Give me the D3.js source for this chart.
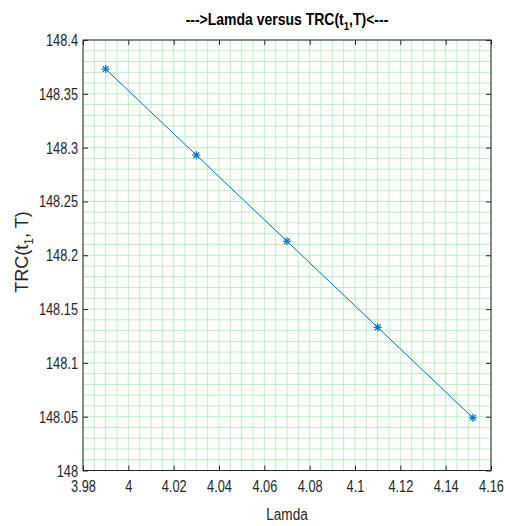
<!DOCTYPE html>
<html>
<head>
<meta charset="utf-8">
<script src="https://cdn.jsdelivr.net/npm/d3@7"></script>
<style>
  html, body { margin: 0; padding: 0; background: #fff; }
  svg { display: block; font-family: "Liberation Sans", Arial, Helvetica, sans-serif; }
</style>
</head>
<body>
<svg id="chart" width="507" height="526"></svg>
<script>
// Lamda values and the resulting TRC(t1,T)
const lamda = [3.99, 4.03, 4.07, 4.11, 4.152];
const trc = [148.373, 148.293, 148.213, 148.133, 148.049];

// Axis tick values
const xTicks = [3.98, 4.00, 4.02, 4.04, 4.06, 4.08, 4.10, 4.12, 4.14, 4.16];
const xTickLabels = ["3.98", "4", "4.02", "4.04", "4.06", "4.08", "4.1", "4.12", "4.14", "4.16"];
const yTicks = [148.0, 148.05, 148.1, 148.15, 148.2, 148.25, 148.3, 148.35, 148.4];
const yTickLabels = ["148", "148.05", "148.1", "148.15", "148.2", "148.25", "148.3", "148.35", "148.4"];
const xMinorStep = 0.005;
const yMinorStep = 0.01;

const svg = d3.select("#chart");
const plotL = 83, plotR = 491, plotT = 40, plotB = 470.5;

const x = d3.scaleLinear().domain([3.98, 4.16]).range([plotL, plotR]);
const y = d3.scaleLinear().domain([148.0, 148.4]).range([plotB, plotT]);

const ink = "#262626";
const gridColor = "#bdefc3";
const lineColor = "#0072BD";
const sx = 0.8; // horizontal glyph squeeze used for the labels

// grid (minor + major share the same light green)
const xGrid = d3.range(0, 37).map(i => 3.98 + i * xMinorStep);
const yGrid = d3.range(0, 41).map(i => 148.0 + i * yMinorStep);
const grid = svg.append("g");
grid.selectAll("line.gx").data(xGrid).join("line")
  .attr("class", "gx")
  .attr("x1", d => x(d)).attr("x2", d => x(d))
  .attr("y1", plotT).attr("y2", plotB)
  .attr("stroke", gridColor).attr("stroke-width", 1);
grid.selectAll("line.gy").data(yGrid).join("line")
  .attr("class", "gy")
  .attr("y1", d => y(d)).attr("y2", d => y(d))
  .attr("x1", plotL).attr("x2", plotR)
  .attr("stroke", gridColor).attr("stroke-width", 1);

// axes with inward ticks on all four sides
function styleAxis(g) {
  g.select(".domain").remove();
  g.selectAll(".tick line").attr("stroke", ink).attr("stroke-width", 1);
}
const xb = svg.append("g").attr("transform", `translate(0,${plotB})`)
  .call(d3.axisBottom(x).tickValues(xTicks).tickSizeInner(-5).tickSizeOuter(0).tickFormat((d, i) => xTickLabels[i]));
styleAxis(xb);
xb.selectAll(".tick text")
  .attr("y", null).attr("dy", null)
  .attr("transform", `translate(0,21) scale(${sx},1)`)
  .attr("fill", ink).attr("font-size", 16);

const xt = svg.append("g").attr("transform", `translate(0,${plotT})`)
  .call(d3.axisTop(x).tickValues(xTicks).tickSizeInner(-5).tickSizeOuter(0).tickFormat(""));
styleAxis(xt);

const yl = svg.append("g").attr("transform", `translate(${plotL},0)`)
  .call(d3.axisLeft(y).tickValues(yTicks).tickSizeInner(-5).tickSizeOuter(0).tickFormat((d, i) => yTickLabels[i]));
styleAxis(yl);
yl.selectAll(".tick text")
  .attr("x", null).attr("dy", null)
  .attr("transform", `translate(-5,5.5) scale(${sx},1)`)
  .attr("fill", ink).attr("font-size", 16);

const yr = svg.append("g").attr("transform", `translate(${plotR},0)`)
  .call(d3.axisRight(y).tickValues(yTicks).tickSizeInner(-5).tickSizeOuter(0).tickFormat(""));
styleAxis(yr);

// keep axis text in the page font
svg.selectAll(".tick text").attr("font-family", null);
xb.attr("font-family", null).attr("font-size", null);
yl.attr("font-family", null).attr("font-size", null);

// box
svg.append("rect")
  .attr("x", plotL).attr("y", plotT)
  .attr("width", plotR - plotL).attr("height", plotB - plotT)
  .attr("fill", "none").attr("stroke", ink).attr("stroke-width", 1);

// data line
const pts = lamda.map((d, i) => [d, trc[i]]);
svg.append("path")
  .datum(pts)
  .attr("d", d3.line().x(d => x(d[0])).y(d => y(d[1])))
  .attr("fill", "none").attr("stroke", lineColor).attr("stroke-width", 1);

// asterisk markers
const r = 4;
const mk = svg.append("g").attr("stroke", lineColor).attr("stroke-width", 1.2);
pts.forEach(d => {
  const cx = x(d[0]), cy = y(d[1]);
  const g = mk.append("g").attr("transform", `translate(${cx},${cy})`);
  g.append("line").attr("x1", -r).attr("x2", r).attr("y1", 0).attr("y2", 0);
  g.append("line").attr("x1", 0).attr("x2", 0).attr("y1", -r).attr("y2", r);
  const q = r * 0.72;
  g.append("line").attr("x1", -q).attr("x2", q).attr("y1", -q).attr("y2", q);
  g.append("line").attr("x1", -q).attr("x2", q).attr("y1", q).attr("y2", -q);
});

// title
const title = svg.append("text")
  .attr("text-anchor", "middle")
  .attr("transform", `translate(${(plotL + plotR) / 2},24.5) scale(0.875,1)`)
  .attr("font-size", 16).attr("font-weight", "bold").attr("fill", "#000");
title.append("tspan").text("--->Lamda versus TRC(t");
title.append("tspan").attr("font-size", 11).attr("dy", 5).text("1");
title.append("tspan").attr("dy", -5).text(",T)<---");

// x label
svg.append("text")
  .attr("text-anchor", "middle")
  .attr("transform", `translate(${(plotL + plotR) / 2},520) scale(${sx},1)`)
  .attr("font-size", 17).attr("fill", ink)
  .text("Lamda");

// y label
const ylab = svg.append("text")
  .attr("text-anchor", "middle")
  .attr("transform", `translate(28,252) rotate(-90)`)
  .attr("font-size", 18).attr("fill", ink);
ylab.append("tspan").text("TRC(t");
ylab.append("tspan").attr("font-size", 12).attr("dy", 5).text("1");
ylab.append("tspan").attr("dy", -5).text(", T)");
</script>
</body>
</html>
